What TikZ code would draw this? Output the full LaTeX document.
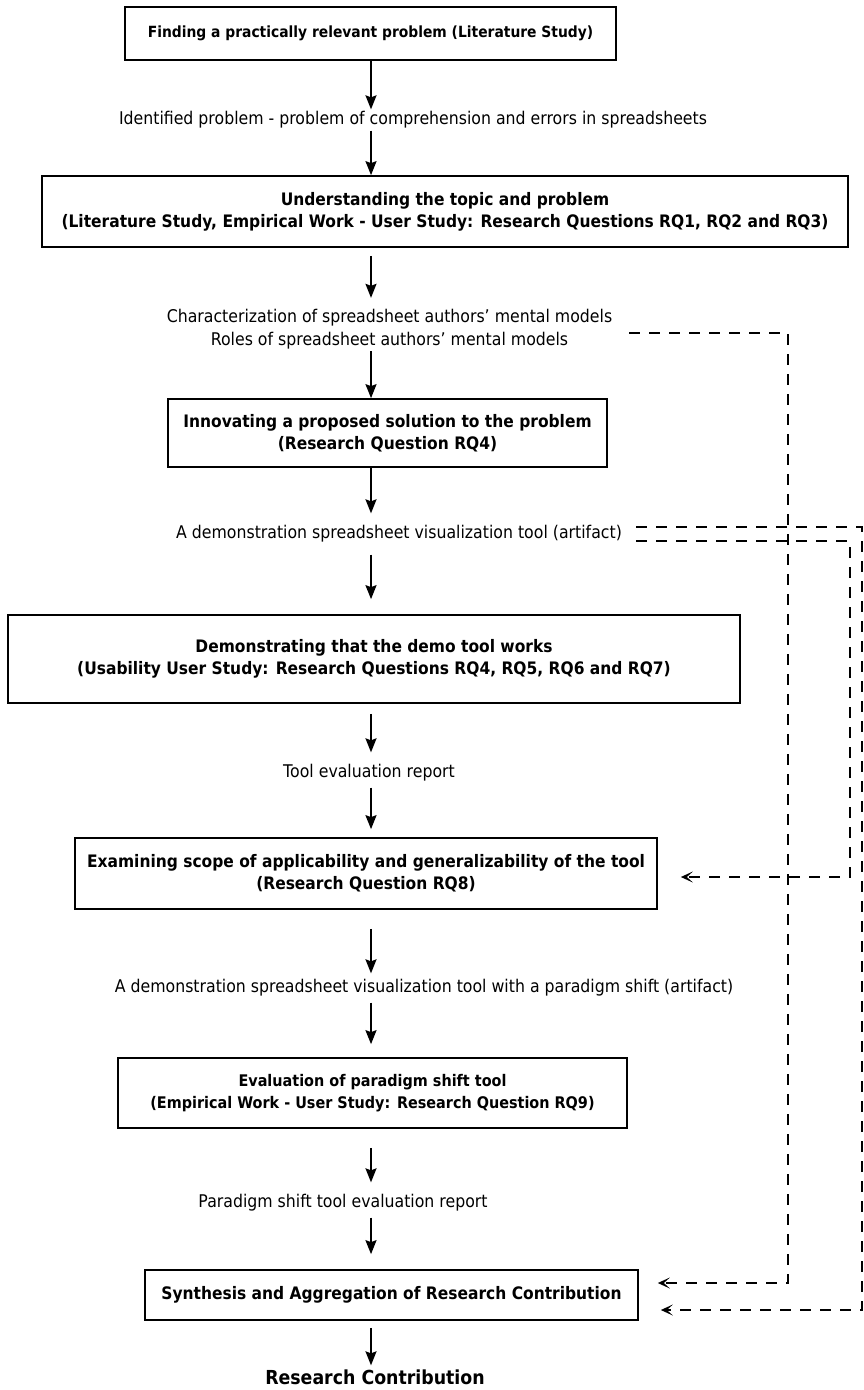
\documentclass[tikz,border=0pt]{standalone}
\usepackage{fontspec}
\setmainfont{DejaVu Sans}[FakeStretch=0.9]
\usetikzlibrary{arrows.meta}

\tikzset{
  stage/.style={draw, line width=1.7pt, align=center, inner sep=0pt,
    font=\bfseries\fontsize{17.2}{22}\selectfont},
  outcome/.style={align=center, inner sep=2pt,
    font=\fontsize{17.5}{23}\selectfont},
  flow/.style={-{Stealth[length=14pt,width=11pt,inset=2pt]}, line width=1.7pt},
  feedback/.style={-{Stealth[length=12pt,width=11pt,inset=6pt]}, line width=1.7pt,
    dash pattern=on 11pt off 9pt},
}

\begin{document}
\begin{tikzpicture}[x=1pt,y=-1pt]
\useasboundingbox (0,0) rectangle (863,1390);

% stages and their outcomes
\node[stage, minimum width=491pt, minimum height=53pt, font=\bfseries\fontsize{15.4}{22}\selectfont]
  (find) at (370.5,33.5)
  {Finding a practically relevant problem (Literature Study)};
\node[outcome] (ident) at (413,120)
  {Identified problem - problem of comprehension and errors in spreadsheets};
\node[stage, minimum width=806pt, minimum height=71pt] (understand) at (445,211.5)
  {Understanding the topic and problem\\(Literature Study, Empirical Work - User Study: Research Questions RQ1, RQ2 and RQ3)};
\node[outcome] (models) at (389.5,329)
  {Characterization of spreadsheet authors' mental models\\Roles of spreadsheet authors' mental models};
\node[stage, minimum width=439pt, minimum height=68pt] (innovate) at (387.5,433)
  {Innovating a proposed solution to the problem\\(Research Question RQ4)};
\node[outcome] (artifact) at (399,534)
  {A demonstration spreadsheet visualization tool (artifact)};
\node[stage, minimum width=732pt, minimum height=88pt] (demo) at (374,659)
  {Demonstrating that the demo tool works\\(Usability User Study: Research Questions RQ4, RQ5, RQ6 and RQ7)};
\node[outcome] (report) at (369,773) {Tool evaluation report};
\node[stage, minimum width=582pt, minimum height=71pt] (scope) at (366,873.5)
  {Examining scope of applicability and generalizability of the tool\\(Research Question RQ8)};
\node[outcome] (shift) at (424,988)
  {A demonstration spreadsheet visualization tool with a paradigm shift (artifact)};
\node[stage, minimum width=509pt, minimum height=70pt, font=\bfseries\fontsize{16}{22}\selectfont]
  (evaluate) at (372.5,1093)
  {Evaluation of paradigm shift tool\\(Empirical Work - User Study: Research Question RQ9)};
\node[outcome] (shiftreport) at (343,1203) {Paradigm shift tool evaluation report};
\node[stage, minimum width=493pt, minimum height=50pt] (synth) at (391.5,1295)
  {Synthesis and Aggregation of Research Contribution};
\node[outcome, font=\bfseries\fontsize{19.3}{23}\selectfont] (contrib) at (375,1377)
  {Research Contribution};

% main column
\coordinate (col) at (371,0);
\draw[flow] (find.south -| col) -- (ident.north -| col);
\draw[flow] (ident.south -| col) -- (understand.north -| col);
\draw[flow, shorten <=8pt, shorten >=9pt] (understand.south -| col) -- (models.north -| col);
\draw[flow] (models.south -| col) -- (innovate.north -| col);
\draw[flow, shorten >=10pt] (innovate.south -| col) -- (artifact.north -| col);
\draw[flow, shorten <=10pt, shorten >=15pt] (artifact.south -| col) -- (demo.north -| col);
\draw[flow, shorten <=10pt, shorten >=10pt] (demo.south -| col) -- (report.north -| col);
\draw[flow, shorten <=4pt, shorten >=8pt] (report.south -| col) -- (scope.north -| col);
\draw[flow, shorten <=19pt, shorten >=4pt] (scope.south -| col) -- (shift.north -| col);
\draw[flow, shorten <=4pt, shorten >=13pt] (shift.south -| col) -- (evaluate.north -| col);
\draw[flow, shorten <=19pt, shorten >=10pt] (evaluate.south -| col) -- (shiftreport.north -| col);
\draw[flow, shorten <=4pt, shorten >=15pt] (shiftreport.south -| col) -- (synth.north -| col);
\draw[flow, shorten <=7pt, shorten >=2pt] (synth.south -| col) -- (contrib.north -| col);

% feedback lines on the right
\coordinate (lineA) at (788,0);
\coordinate (lineC) at (850,0);
\coordinate (lineB) at (862,0);
\draw[feedback, shorten <=15pt] ([yshift=-4pt]models.east) -- ([yshift=-4pt]models.east -| lineA)
  |- ([xshift=19pt,yshift=12pt]synth.east);
\draw[feedback, shorten <=12pt] ([yshift=7pt]artifact.east) -- ([yshift=7pt]artifact.east -| lineB)
  |- ([xshift=22pt,yshift=-15pt]synth.east);
\draw[feedback, shorten <=12pt] ([yshift=-7pt]artifact.east) -- ([yshift=-7pt]artifact.east -| lineC)
  |- ([xshift=23pt,yshift=-3.5pt]scope.east);
\end{tikzpicture}
\end{document}
